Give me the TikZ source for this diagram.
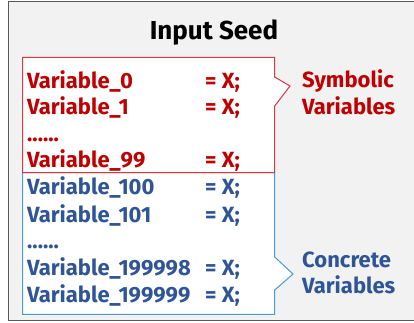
\documentclass[tikz,border=0pt]{standalone}
\usepackage{fontspec}
\setmainfont{Fira Sans}
\usetikzlibrary{positioning}
\definecolor{symred}{HTML}{C00000}
\definecolor{symline}{HTML}{D9363E}
\definecolor{conblue}{HTML}{2F5597}
\definecolor{conline}{HTML}{4A9BD9}
\definecolor{seedgray}{HTML}{F2F2F2}
\tikzset{
    vartext/.style={anchor=base west, inner sep=0pt, font=\fontsize{22}{26}\selectfont\bfseries},
    symtext/.style={vartext, text=symred},
    context/.style={vartext, text=conblue},
}

\begin{document}
\begin{tikzpicture}[x=1pt,y=-1pt]
\useasboundingbox (0,0) rectangle (414,322);
\begin{scope}
\clip (0,0) rectangle (414,322);
\draw[fill=seedgray, draw=black!65, line width=1.5pt] (8.5,1.5) rectangle (420,320.5);
\end{scope}
\node[anchor=base, inner sep=0pt, font=\fontsize{26}{30}\selectfont\bfseries] (title) at (214,39) {Input Seed};

\fill[white, draw=conline, line width=1pt] (22.7,172.7) -- (274.7,172.7) -- (274.7,257) -- (293,274) -- (274.7,290) -- (274.7,314.3) -- (22.7,314.3) -- cycle;
\fill[white, draw=symline, line width=1pt] (22.7,57.3) -- (274.7,57.3) -- (274.7,77) -- (290,86) -- (274.7,106) -- (274.7,172.7) -- (22.7,172.7) -- cycle;

\node[symtext] (s0) at (27,88) {Variable\_0};
\node[symtext] (s1) at (27,114) {Variable\_1};
\node[symtext] (sdots) at (27,141) {......};
\node[symtext] (s99) at (27,167) {Variable\_99};
\foreach \y/\n in {88/a,114/b,167/c}
    \node[symtext] (se\n) at (205,\y) {= X;};

\node[context] (c100) at (27,194) {Variable\_100};
\node[context] (c101) at (27,222) {Variable\_101};
\node[context] (cdots) at (27,248) {......};
\node[context] (c199998) at (27,275) {Variable\_199998};
\node[context] (c199999) at (27,302) {Variable\_199999};
\foreach \y/\n in {194/a,222/b,275/c,302/d}
    \node[context] (ce\n) at (205,\y) {= X;};

\node[symtext] (symlabel) at (302,87) {Symbolic};
\node[symtext] (symlabel2) at (302,114) {Variables};
\node[context] (conlabel) at (302,267) {Concrete};
\node[context] (conlabel2) at (302,293) {Variables};
\end{tikzpicture}
\end{document}
